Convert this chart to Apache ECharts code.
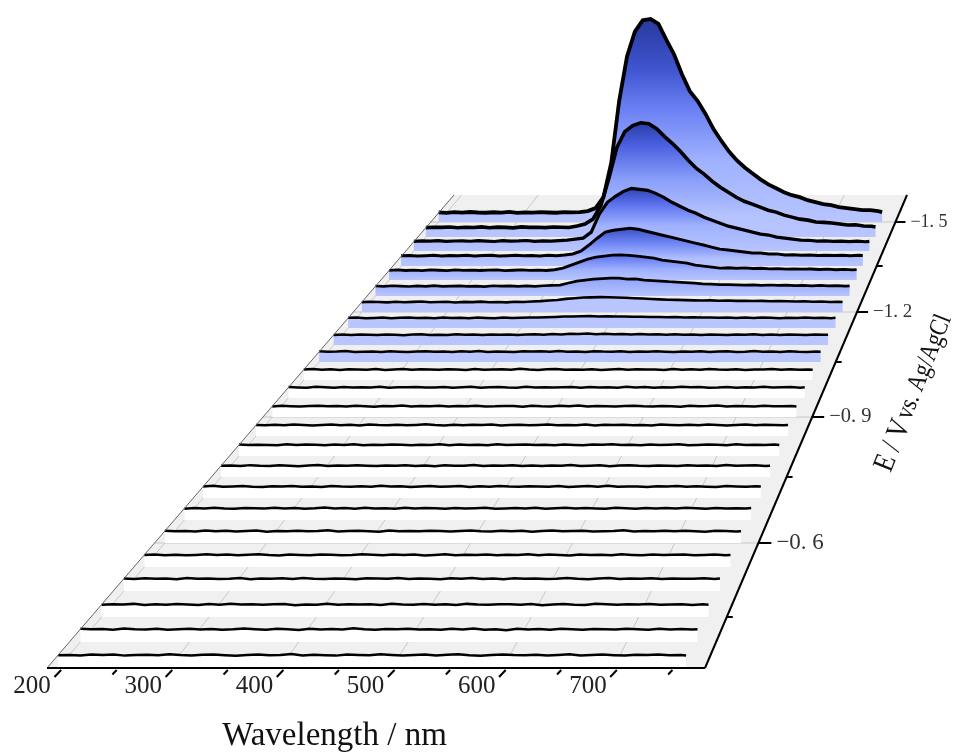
<!DOCTYPE html>
<html><head><meta charset="utf-8">
<style>html,body{margin:0;padding:0;background:#fff}#c{width:954px;height:753px}</style>
<script src="https://cdn.jsdelivr.net/npm/echarts@6/dist/echarts.min.js"></script>
</head><body><div id="c"></div>
<script>
// ---------- data (intensity, a.u.) ----------
const wavelengths = [200,210,220,230,240,250,260,270,280,290,300,310,320,330,340,350,360,370,380,390,400,410,420,430,440,450,460,470,480,490,500,510,520,530,540,550,560,570,580,590,600,610,620,630,640,650,660,670,680,690,700,710,720,730,740,750,760,765];
const potentials = [-0.35,-0.40,-0.45,-0.50,-0.55,-0.60,-0.65,-0.70,-0.75,-0.80,-0.85,-0.90,-0.95,-1.00,-1.05,-1.10,-1.15,-1.20,-1.25,-1.30,-1.35,-1.40,-1.45,-1.50];
const eTicks = [-0.6,-0.9,-1.2,-1.5];
const eTickLabels = ["−0. 6","−0. 9","−1. 2","−1. 5"];
const eMinor = [-0.45,-0.75,-1.05,-1.35];
const wlTickLabels = [200,300,400,500,600,700];

const t00=[128,131,126,134,129,136,124,130,133,127,138,129,125,132,136,128,122,131,135,127,130,139,126,133,128,124,135,130,127,137,131,125,129,134,126,132,138,128,123,130,136,129,127,133,125,131,137,126,130,134,128,124,132,129,135,127,131,126];
const t01=[135,129,132,126,138,130,127,134,124,131,136,128,133,125,129,137,131,126,134,130,122,135,128,132,127,139,129,125,133,130,136,127,131,124,134,128,137,126,130,119,135,128,132,126,136,129,124,133,131,127,135,130,125,134,128,132,127,130];
const t02=[127,133,129,136,125,131,128,135,130,124,134,127,137,129,132,126,131,135,123,130,128,136,126,133,129,131,125,138,130,127,134,128,132,124,136,129,126,133,131,127,135,122,130,134,128,125,137,131,127,133,129,135,126,130,132,124,131,128];
const t03=[132,126,135,128,131,124,137,129,133,127,130,136,125,131,128,134,126,138,130,127,133,129,124,135,131,128,136,126,132,129,125,134,130,137,127,131,123,135,129,133,126,130,138,128,125,132,136,127,131,129,134,126,133,128,130,135,127,131];
const t04=[129,135,127,132,125,130,136,128,133,126,131,138,129,124,134,130,127,135,132,125,129,137,131,126,133,128,135,124,130,136,127,132,129,134,125,131,128,137,126,133,130,124,135,129,132,127,136,130,125,133,128,131,135,126,129,134,127,130];
const t05=[134,128,131,125,137,129,133,126,130,136,124,132,128,135,127,131,139,126,130,133,128,124,136,129,132,127,134,130,125,131,137,128,126,135,129,133,123,131,136,127,130,134,125,129,132,138,126,131,128,135,127,133,129,124,134,130,126,128];
const t06=[126,132,129,136,128,124,134,131,127,135,129,133,125,130,138,127,132,126,135,129,131,124,137,128,133,130,126,134,127,131,136,125,129,132,128,135,124,130,137,127,133,129,126,135,131,125,134,128,132,127,136,130,124,133,129,131,127,132];
const t07=[131,137,126,130,134,128,125,133,129,136,127,131,124,135,130,128,133,126,139,129,132,125,131,135,127,130,134,124,132,128,136,129,126,133,131,127,135,125,130,134,128,137,126,131,129,124,133,130,136,127,132,128,125,135,130,127,133,129];
const t08=[128,133,125,136,130,127,134,129,124,132,137,126,131,128,135,130,125,133,129,136,127,131,124,134,130,128,137,126,132,129,135,125,131,127,133,130,138,126,129,134,124,131,136,128,127,133,130,125,135,129,132,126,137,128,131,134,127,130];
const t09=[135,127,131,129,124,136,128,133,130,126,134,129,137,125,131,127,135,130,124,132,128,136,126,133,129,131,125,138,127,130,134,128,132,126,135,129,124,133,131,136,127,130,125,134,128,132,137,126,129,133,130,125,136,128,131,127,134,129];
const t10=[130,126,134,128,137,131,125,129,135,127,132,124,136,130,128,133,126,131,138,129,125,134,127,132,130,136,124,129,133,127,131,135,126,130,128,137,125,132,129,134,127,131,124,136,130,126,133,128,135,129,125,131,137,127,132,130,126,129];
const t11=[127,134,129,125,132,136,128,131,126,135,130,124,133,128,137,127,131,129,134,125,132,130,136,126,128,133,131,124,135,129,127,134,130,138,126,131,128,125,133,136,129,127,132,130,124,135,128,131,137,126,133,129,125,134,130,128,132,127];
const t12=[133,129,126,136,130,124,134,127,131,128,137,125,132,130,135,127,129,133,124,131,138,126,130,134,128,125,136,129,132,127,131,135,124,133,128,130,126,137,129,134,125,131,127,136,130,133,126,128,135,124,132,129,137,127,130,134,125,131];
const t13=[129,136,127,132,125,134,130,128,135,124,131,137,126,133,129,127,134,131,125,136,128,130,133,126,138,129,124,132,135,127,131,128,134,125,130,136,127,133,129,131,124,135,128,132,126,137,130,127,134,125,131,129,136,128,133,126,130,128];
const t14=[134,128,131,137,126,130,133,127,135,129,125,132,136,128,131,126,134,130,137,127,132,129,125,135,131,134,128,137,130,133,127,136,131,129,134,126,132,128,135,130,125,133,129,136,127,131,134,126,130,137,128,132,125,135,129,127,133,130];
const t15=[128,132,126,135,130,127,134,129,124,133,136,128,131,126,137,129,132,127,134,130,135,128,133,138,131,140,135,142,139,145,138,143,136,141,134,139,133,137,131,136,130,134,128,135,131,127,134,129,136,128,132,126,135,130,127,133,129,131];
const t16=[131,135,127,130,134,126,132,137,128,131,125,135,129,133,127,136,130,126,134,129,132,136,135,140,143,148,147,152,155,150,153,147,149,144,146,141,143,138,141,136,139,134,137,132,136,130,134,129,135,131,127,133,130,136,128,132,127,131];
const t17=[129,134,131,126,135,128,132,137,127,130,134,125,133,129,136,128,131,126,135,130,137,142,150,158,172,180,190,192,195,193,190,186,180,176,170,165,160,158,155,152,150,152,147,150,145,147,143,146,141,144,140,137,141,134,138,131,135,130];
const t18=[133,128,136,130,126,134,129,137,127,132,135,128,131,125,136,130,133,127,134,129,136,140,145,172,198,211,224,230,238,236,224,226,211,205,198,190,185,178,172,162,158,152,150,147,145,148,142,146,140,144,138,141,135,140,134,138,131,135];
const t19=[130,136,128,133,127,135,131,126,137,129,134,128,132,136,127,131,135,129,133,128,138,161,201,241,281,308,322,335,338,332,322,308,295,268,255,241,228,201,188,174,161,165,158,162,155,158,150,153,146,150,145,148,141,146,138,143,136,140];
const t20=[138,144,136,141,147,135,143,139,146,137,142,148,136,140,145,138,143,137,146,141,149,163,203,285,379,461,488,501,515,501,474,447,420,393,366,339,312,285,257,230,217,203,190,176,178,163,165,149,152,146,150,144,148,142,147,140,145,143];
const t21=[134,140,136,143,132,138,141,135,144,137,131,142,136,139,145,133,140,137,143,151,165,178,261,508,673,755,824,865,851,838,796,741,673,618,563,522,467,426,384,343,316,288,261,233,220,192,178,165,151,148,137,140,133,137,130,135,128,134];
const t22=[131,137,134,140,129,136,133,142,130,138,135,128,141,134,137,131,139,136,133,153,181,250,445,820,1251,1473,1557,1598,1585,1515,1404,1307,1195,1070,959,876,778,695,626,556,500,459,417,375,348,306,278,250,236,209,205,195,181,167,170,153,150,139];
const t23=[136,130,139,133,142,135,131,138,134,144,129,137,133,140,135,131,141,136,140,155,197,352,844,1715,2348,2700,2860,2880,2810,2587,2376,2095,1856,1715,1533,1322,1153,998,872,773,689,605,534,478,422,380,352,309,281,253,239,211,197,183,169,169,155,141];
const traces=[t00,t01,t02,t03,t04,t05,t06,t07,t08,t09,t10,t11,t12,t13,t14,t15,t16,t17,t18,t19,t20,t21,t22,t23];

// ---------- layout of the tilted floor ----------
const floor={bottom:668,top:195,bl:47,br:705,tl:454,tr:907,wlMin:190,wlMax:782};
const rowFloorY=[668,642,617,591,567,543,520,498,477,456,436,417,398,380,362,345,328,312,296,280,266,251,237,222];
const lineWidths=[2.5,2.5,2.5,2.5,2.5,2.5,2.5,2.5,2.5,2.5,2.5,2.5,2.5,2.5,2.5,2.5,2.5,2.6,2.7,2.8,3,3.2,3.6,3.8];
const SERIF='"Liberation Serif","Times New Roman",serif';
const LAV='#b8c5ff';
const fills={
 23:[[0,'#28389c'],[.25,'#4055d0'],[.45,'#6c82f4'],[.7,'#a0b2ff'],[1,LAV]],
 22:[[0,'#2a3da8'],[.2,'#4a60e0'],[.5,'#8a9ffa'],[.8,'#b4c2ff'],[1,LAV]],
 21:[[0,'#2f43b0'],[.25,'#5a70ee'],[.6,'#a0b2ff'],[1,LAV]],
 20:[[0,'#3a50c8'],[.4,'#6f86f6'],[.8,'#b0bfff'],[1,LAV]],
 19:[[0,'#5a70ee'],[.6,'#a0b2ff'],[1,LAV]],
 18:[[0,'#8ea3fb'],[1,LAV]]
};
function floorX(wl,y){
  const f=(wl-floor.wlMin)/(floor.wlMax-floor.wlMin), t=(floor.bottom-y)/(floor.bottom-floor.top);
  const a=floor.bl+(floor.br-floor.bl)*f, b=floor.tl+(floor.tr-floor.tl)*f;
  return a+(b-a)*t;
}
function yOfE(E){ // floor y of a potential, from the row table
  return rowFloorY[Math.round((-0.35-E)/0.05)];
}
const grids=[{left:0,top:0,width:954,height:753}], xAxes=[{type:'value',gridIndex:0,min:0,max:954,show:false}], yAxes=[{type:'value',gridIndex:0,min:0,max:753,inverse:true,show:false}];
const series=[];

// floor, grid lines
series.push({type:'custom',coordinateSystem:'cartesian2d',xAxisIndex:0,yAxisIndex:0,z:1,silent:true,clip:false,data:[[0,0]],
 renderItem(p,api){
  const c=(x,y)=>api.coord([x,y]);
  const kids=[{type:'polygon',shape:{points:[c(floor.bl,floor.bottom),c(floor.br,floor.bottom),c(floor.tr,floor.top),c(floor.tl,floor.top)]},style:{fill:'#f0f0f0'}}];
  for(const wl of [200,300,400,500,600,700]){
    kids.push({type:'line',shape:{x1:floorX(wl,floor.bottom),y1:floor.bottom,x2:floorX(wl,floor.top),y2:floor.top},style:{stroke:'#c8c8c8',lineWidth:1}});
  }
  for(const E of eTicks){const y=yOfE(E);
    kids.push({type:'line',shape:{x1:floorX(floor.wlMin,y),y1:y,x2:floorX(floor.wlMax,y),y2:y},style:{stroke:'#c8c8c8',lineWidth:1}});
  }
  return {type:'group',children:kids};
 }});

// traces, back to front
for(let i=traces.length-1;i>=0;i--){
  const b=rowFloorY[i], l=floorX(200,b), r=floorX(765,b), w=r-l;
  const vMax=3000, h=vMax/10*w/629;
  const g=grids.length;
  grids.push({left:l,top:b-h,width:w,height:h});
  xAxes.push({type:'value',gridIndex:g,min:200,max:765,show:false});
  yAxes.push({type:'value',gridIndex:g,min:0,max:vMax,show:false});
  let fill=i<14?'#ffffff':LAV;
  if(fills[i]) fill={type:'linear',x:0,y:0,x2:0,y2:1,colorStops:fills[i].map(s=>({offset:s[0],color:s[1]}))};
  series.push({type:'line',name:'E = '+potentials[i]+' V',xAxisIndex:g,yAxisIndex:g,z:2,symbol:'none',smooth:false,clip:false,silent:true,
    data:wavelengths.map((x,k)=>[x,traces[i][k]]),
    lineStyle:{color:'#000',width:lineWidths[i],join:'miter'},
    areaStyle:{color:fill,opacity:1,origin:'start'}});
}

// edges, ticks, E labels, titles
series.push({type:'custom',coordinateSystem:'cartesian2d',xAxisIndex:0,yAxisIndex:0,z:3,silent:true,clip:false,data:[[0,0]],
 renderItem(p,api){
  const kids=[];
  const ln=(x1,y1,x2,y2,s,w)=>kids.push({type:'line',shape:{x1,y1,x2,y2},style:{stroke:s,lineWidth:w}});
  ln(floor.bl,floor.bottom,floor.tl,floor.top,'#666',1);
  ln(floor.bl,floor.bottom,floor.br,floor.bottom,'#000',2);
  ln(floor.br,floor.bottom,floor.tr,floor.top,'#000',2);
  for(let wl=200;wl<=750;wl+=50){
    const x=floorX(wl,floor.bottom)+3, major=wl%100===0, d=major?7:4.5;
    ln(x,floor.bottom+2,x-d*0.95,floor.bottom+2+d,'#000',2);
  }
  const sizes=[23,20.5,19,18];
  eTicks.forEach((E,n)=>{
    const y=yOfE(E), x=floorX(floor.wlMax,y);
    ln(x,y,x+(13-n),y,'#000',2);
    kids.push({type:'text',x:x+18-n,y:y,style:{text:eTickLabels[n],fontFamily:SERIF,fontSize:sizes[n],fill:'#333',align:'left',verticalAlign:'middle'}});
  });
  eMinor.forEach(E=>{const y=yOfE(E),x=floorX(floor.wlMax,y);ln(x,y,x+6,y,'#000',2);});
  kids.push({type:'text',x:334.5,y:736,style:{text:'Wavelength / nm',fontFamily:SERIF,fontSize:33,fill:'#111',align:'center',verticalAlign:'middle'}});
  kids.push({type:'text',x:914,y:393,rotation:1.19,scaleX:0.84,style:{
    text:'{a|E / V} {b|vs. Ag/AgCl}',align:'center',verticalAlign:'middle',fill:'#111',
    rich:{a:{fontFamily:SERIF,fontSize:30,fill:'#111'},b:{fontFamily:SERIF,fontSize:26,fill:'#111'}}}});
  return {type:'group',children:kids};
 }});

// wavelength tick labels on a real value axis
const lg=grids.length;
grids.push({left:32,width:556,top:670,height:1});
xAxes.push({type:'value',gridIndex:lg,min:200,max:700,interval:100,axisLine:{show:false},axisTick:{show:false},splitLine:{show:false},
  axisLabel:{show:true,margin:3,fontFamily:SERIF,fontSize:25,color:'#222',formatter:v=>String(v)}});
yAxes.push({type:'value',gridIndex:lg,min:0,max:1,show:false});

const chart=echarts.init(document.getElementById('c'),null,{renderer:'canvas'});
chart.setOption({animation:false,backgroundColor:'#fff',grid:grids,xAxis:xAxes,yAxis:yAxes,series});
</script></body></html>
